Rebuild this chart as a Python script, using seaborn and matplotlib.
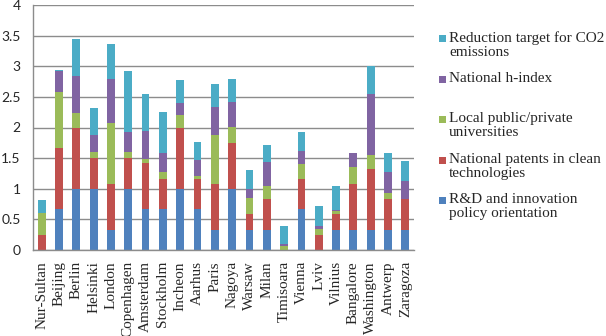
import matplotlib
matplotlib.use("Agg")
import matplotlib.pyplot as plt
from matplotlib.patches import Rectangle
import seaborn as sns
import numpy as np
import pandas as pd

cities = ["Nur-Sultan", "Beijing", "Berlin", "Helsinki", "London", "Copenhagen",
          "Amsterdam", "Stockholm", "Incheon", "Aarhus", "Paris", "Nagoya",
          "Warsaw", "Milan", "Timisoara", "Vienna", "Lviv", "Vilnius",
          "Bangalore", "Washington", "Antwerp", "Zaragoza"]
rd = [0, 0.67, 1.0, 1.0, 0.33, 1.0, 0.67, 0.67, 1.0, 0.67, 0.33, 1.0,
      0.33, 0.33, 0, 0.67, 0, 0.33, 0.33, 0.33, 0.33, 0.33]
patents = [0.25, 0.99, 1.0, 0.5, 0.74, 0.5, 0.75, 0.49, 1.0, 0.49, 0.74, 0.74,
           0.25, 0.5, 0, 0.49, 0.24, 0.25, 0.74, 1.0, 0.5, 0.5]
univ = [0.35, 0.92, 0.23, 0.1, 1.0, 0.1, 0.07, 0.11, 0.21, 0.05, 0.81, 0.27,
        0.27, 0.21, 0.07, 0.25, 0.11, 0.06, 0.28, 0.22, 0.1, 0]
hindex = [0, 0.35, 0.61, 0.27, 0.72, 0.33, 0.46, 0.32, 0.19, 0.26, 0.46, 0.41,
          0.15, 0.39, 0.03, 0.21, 0.05, 0.02, 0.23, 1.0, 0.35, 0.3]
co2 = [0.22, 0.01, 0.6, 0.45, 0.57, 1.0, 0.6, 0.67, 0.38, 0.3, 0.37, 0.37,
       0.3, 0.29, 0.3, 0.31, 0.32, 0.39, 0, 0.45, 0.31, 0.32]

series_names = ["R&D and innovation\npolicy orientation",
                "National patents in clean\ntechnologies",
                "Local public/private\nuniversities",
                "National h-index",
                "Reduction target for CO2\nemissions"]
series_vals = [rd, patents, univ, hindex, co2]
colors = ["#4F81BD", "#C0504D", "#9BBB59", "#8064A2", "#4BACC6"]

sns.set_style("white")
plt.rcParams['font.family'] = ['Liberation Serif', 'DejaVu Serif']

fig = plt.figure(figsize=(6.06, 3.36), dpi=100)
ax = fig.add_axes([33/606, 1 - 250/336, (414-33)/606, (250-5)/336])

df = pd.DataFrame({"city": cities})
bottom = np.zeros(len(cities))
for name, vals, c in zip(series_names, series_vals, colors):
    df["v"] = vals
    sns.barplot(data=df, x="city", y="v", color=c, width=0.45, bottom=bottom,
                ax=ax, saturation=1, edgecolor="none")
    bottom = bottom + np.array(vals)

ax.set_ylim(0, 4)
ax.set_xlim(-0.5, len(cities) - 0.5)
ax.set_yticks(np.arange(0, 4.01, 0.5))
ax.set_yticklabels(["0", "0.5", "1", "1.5", "2", "2.5", "3", "3.5", "4"],
                   fontsize=10, family=["Lato", "DejaVu Sans"])
ax.yaxis.grid(True, color="#8C8C8C", linewidth=1)
ax.set_axisbelow(True)
ax.set_xlabel("")
ax.set_ylabel("")
ax.set_xticks(range(len(cities)))
ax.set_xticklabels(cities, rotation=90, fontsize=11)
ax.tick_params(axis="x", length=0, pad=8)
ax.set_xticks(np.arange(-0.5, len(cities), 1), minor=True)
ax.tick_params(axis="x", which="minor", length=4, color="#8C8C8C", width=1)
ax.tick_params(axis="y", length=3, color="#8C8C8C", width=1, pad=6)
for s in ["top", "right"]:
    ax.spines[s].set_visible(False)
for s in ["left", "bottom"]:
    ax.spines[s].set_color("#8C8C8C")
    ax.spines[s].set_linewidth(1)

# legend (manual, Excel-like)
entries = [(4, 38, "Reduction target for CO2\nemissions"),
           (3, 79, "National h-index"),
           (2, 119, "Local public/private\nuniversities"),
           (1, 160, "National patents in clean\ntechnologies"),
           (0, 200, "R&D and innovation\npolicy orientation")]
for idx, ypix, txt in entries:
    fig.patches.append(Rectangle((439/606, 1 - (ypix + 4)/336), 7/606, 7/336,
                                 transform=fig.transFigure, facecolor=colors[idx],
                                 edgecolor="none"))
    fig.text(449/606, 1 - (ypix - 7)/336, txt, fontsize=11, va="top", ha="left",
             linespacing=1.15)

fig.savefig("out.png", dpi=100)
